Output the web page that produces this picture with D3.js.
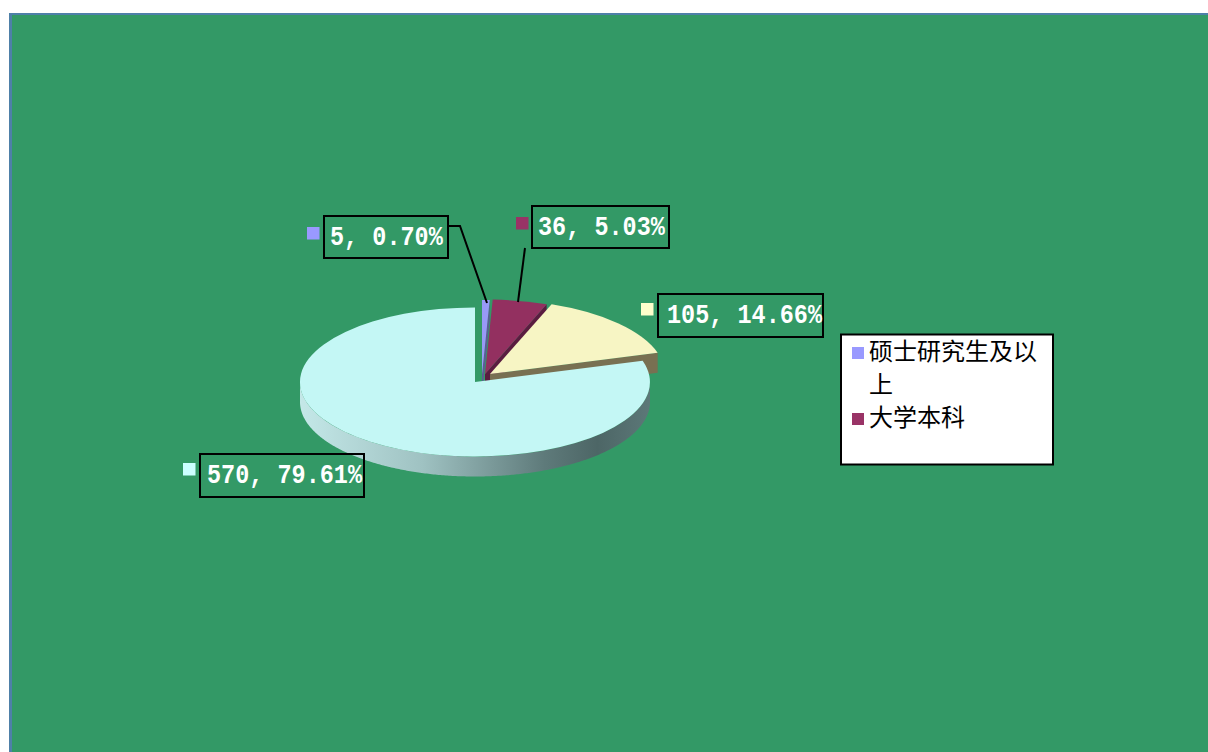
<!DOCTYPE html>
<html>
<head>
<meta charset="utf-8">
<script src="https://cdn.jsdelivr.net/npm/d3@7"></script>
<style>
  html, body { margin: 0; padding: 0; background: #fff; overflow: hidden; }
</style>
</head>
<body>
<script>
// data
const values = [5, 36, 105, 570];
const percents = [0.7, 5.03, 14.66, 79.61];
const legendNames = ["硕士研究生及以上", "大学本科"];
const swatchColors = ["#9999ff", "#993366", "#ffffcc", "#ccffff"];

// layout, all measured in page pixels
const baseWidth = 1208,
  baseHeight = 752,
  plot = { left: 9, top: 13 },
  pie = { cx: 475, cy: 382, rx: 175, ry: 74.5, depth: 20 };

const topColors = ["#9999f7", "#933060", "#f7f5c4", "#c4f7f5"];
const sideColors = ["#5c5c96", "#5a1c40", "#787052", "#4f6a6a"];

// how far each slice is pulled out of the pie
const explode = [
  { dx: 7, dy: -7.5 },
  { dx: 10, dy: -8 },
  { dx: 15, dy: -8 },
  { dx: 0, dy: 0 },
];

// label boxes: [x, y, w, h], swatch corner, text start, leader line
const labelLayout = [
  { box: [324, 216, 124, 42], swatch: [307, 227], text: [330, 245], leader: [[448, 226], [460, 226], [487, 303]] },
  { box: [532, 206, 137, 42], swatch: [516, 217], text: [538, 235], leader: [[525, 248], [518, 302]] },
  { box: [658, 294, 165, 43], swatch: [641, 303], text: [667, 323], leader: null },
  { box: [200, 454, 164, 43], swatch: [183, 463], text: [207, 483], leader: null },
];

const svg = d3
  .select("body")
  .append("svg")
  .attr("width", baseWidth)
  .attr("height", baseHeight)
  .style("display", "block");

// plot background with its thin blue edge
svg
  .append("rect")
  .attr("x", plot.left)
  .attr("y", plot.top)
  .attr("width", baseWidth - plot.left)
  .attr("height", baseHeight - plot.top)
  .attr("fill", "#4e80a8");
svg
  .append("rect")
  .attr("x", plot.left + 3)
  .attr("y", plot.top + 2)
  .attr("width", baseWidth - plot.left - 3)
  .attr("height", baseHeight - plot.top - 2)
  .attr("fill", "#339966");

// the wall is drawn inside the translated slice group, so local coordinates
const gradient = svg
  .append("defs")
  .append("linearGradient")
  .attr("id", "wallShade")
  .attr("gradientUnits", "userSpaceOnUse")
  .attr("x1", -pie.rx)
  .attr("x2", pie.rx)
  .attr("y1", 0)
  .attr("y2", 0);
[
  [0, "#c4e8e8"],
  [0.35, "#9fc2c2"],
  [0.7, "#5e7a7a"],
  [0.85, "#4d6666"],
  [1, "#5c7878"],
].forEach((s) => {
  gradient.append("stop").attr("offset", s[0]).attr("stop-color", s[1]);
});

const slices = d3.pie().sort(null).value((d) => d)(values);

const px = (a) => pie.rx * Math.sin(a);
const py = (a) => -pie.ry * Math.cos(a);

const arc = d3.arc().innerRadius(0).outerRadius(1);

const wall = d3
  .area()
  .x((a) => px(a))
  .y0((a) => py(a))
  .y1((a) => py(a) + pie.depth);

const chart = svg.append("g").attr("class", "pie");

slices.forEach((s, i) => {
  const g = chart
    .append("g")
    .attr(
      "transform",
      "translate(" + (pie.cx + explode[i].dx) + "," + (pie.cy + explode[i].dy) + ")"
    );

  // radial wall on the clockwise edge of the slice (hidden when it faces back)
  if (s.endAngle < Math.PI) {
    const tipX = px(s.endAngle),
      tipY = py(s.endAngle);
    g.append("path")
      .attr("d", `M0,0L${tipX},${tipY}L${tipX},${tipY + pie.depth}L0,${pie.depth}Z`)
      .attr("fill", sideColors[i]);
  }

  // outer wall, only the front half of the ellipse shows
  const from = Math.max(s.startAngle, Math.PI / 2),
    to = Math.min(s.endAngle, (3 * Math.PI) / 2);
  if (from < to) {
    g.append("path")
      .attr("d", wall(d3.range(from, to, 0.01).concat([to])))
      .attr("fill", "url(#wallShade)");
  }

  g.append("path")
    .attr("transform", "scale(" + pie.rx + "," + pie.ry + ")")
    .attr("d", arc(s))
    .attr("fill", topColors[i]);
});

// data labels
const pctFormat = d3.format(".2f");
const line = d3.line();

labelLayout.forEach((l, i) => {
  const g = svg.append("g").attr("class", "data-label");
  g.append("rect")
    .attr("x", l.box[0])
    .attr("y", l.box[1])
    .attr("width", l.box[2])
    .attr("height", l.box[3])
    .attr("fill", "none")
    .attr("stroke", "#000")
    .attr("stroke-width", 2);
  g.append("rect")
    .attr("x", l.swatch[0])
    .attr("y", l.swatch[1])
    .attr("width", 12.5)
    .attr("height", 12.5)
    .attr("fill", swatchColors[i]);
  g.append("text")
    .attr("transform", "translate(" + l.text[0] + "," + l.text[1] + ") scale(1,1.15)")
    .attr("fill", "#fff")
    .style("font-family", "'Liberation Mono', monospace")
    .style("font-weight", "bold")
    .style("font-size", "23.5px")
    .text(values[i] + ", " + pctFormat(percents[i]) + "%");
  if (l.leader) {
    g.append("path")
      .attr("d", line(l.leader))
      .attr("fill", "none")
      .attr("stroke", "#000")
      .attr("stroke-width", 2);
  }
});

// legend, clipped to two names like the original
const legend = svg.append("g").attr("class", "legend");
legend
  .append("rect")
  .attr("x", 841)
  .attr("y", 334.5)
  .attr("width", 212)
  .attr("height", 130)
  .attr("fill", "#fff")
  .attr("stroke", "#000")
  .attr("stroke-width", 2);

const legendRows = [
  { name: legendNames[0].slice(0, 7), swatch: 0 },
  { name: legendNames[0].slice(7), swatch: null },
  { name: legendNames[1], swatch: 1 },
];
const rowY = d3.scalePoint().domain(d3.range(legendRows.length)).range([351, 417]);

legendRows.forEach((r, i) => {
  if (r.swatch !== null) {
    legend
      .append("rect")
      .attr("x", 852)
      .attr("y", rowY(i) - 4)
      .attr("width", 12)
      .attr("height", 12)
      .attr("fill", swatchColors[r.swatch]);
  }
  legend
    .append("text")
    .attr("x", 869)
    .attr("y", rowY(i))
    .attr("dy", "0.36em")
    .attr("fill", "#000")
    .style("font-family", "'Noto Sans CJK SC', sans-serif")
    .style("font-size", "24px")
    .text(r.name);
});
</script>
</body>
</html>
